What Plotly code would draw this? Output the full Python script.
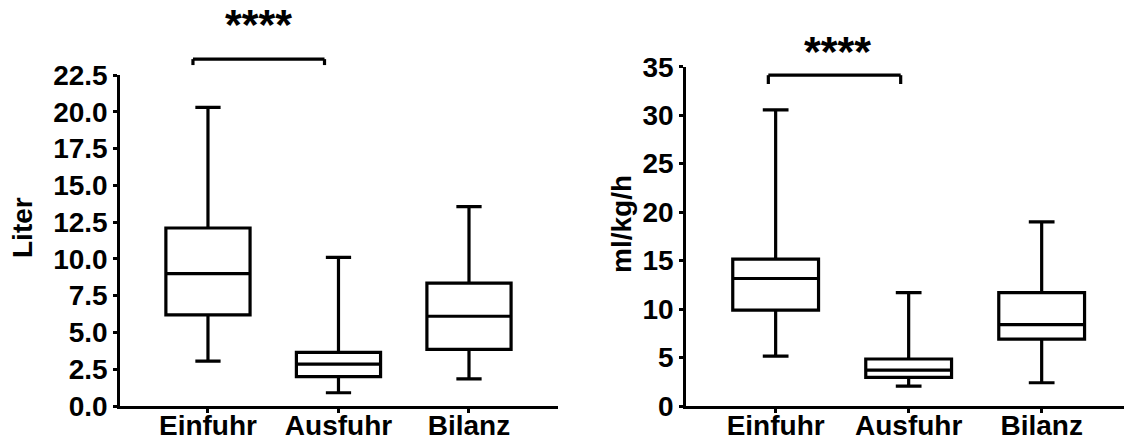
import plotly.graph_objects as go

W, H = 1125, 443

categories = ["Einfuhr", "Ausfuhr", "Bilanz"]

# Left panel: Liter
liter_lower = [3.05, 0.9, 1.85]
liter_q1 = [6.2, 2.0, 3.85]
liter_median = [9.0, 2.85, 6.1]
liter_q3 = [12.1, 3.65, 8.35]
liter_upper = [20.3, 10.1, 13.55]

# Right panel: ml/kg/h
rate_lower = [5.15, 2.05, 2.4]
rate_q1 = [9.9, 2.95, 6.9]
rate_median = [13.15, 3.7, 8.4]
rate_q3 = [15.15, 4.85, 11.7]
rate_upper = [30.55, 11.7, 19.0]

liter_ticks = [0, 2.5, 5, 7.5, 10, 12.5, 15, 17.5, 20, 22.5]
rate_ticks = [0, 5, 10, 15, 20, 25, 30, 35]

significance = "****"

FONT = "Liberation Sans, Arial, sans-serif"
LW = 3.2

fig = go.Figure()

box_style = dict(
    boxpoints=False,
    fillcolor="white",
    line=dict(color="black", width=LW),
    width=0.645,
    whiskerwidth=0.3,
    showlegend=False,
    hoverinfo="skip",
)

fig.add_trace(go.Box(
    x=categories, q1=liter_q1, median=liter_median, q3=liter_q3,
    lowerfence=liter_lower, upperfence=liter_upper,
    xaxis="x", yaxis="y", **box_style))

fig.add_trace(go.Box(
    x=categories, q1=rate_q1, median=rate_median, q3=rate_q3,
    lowerfence=rate_lower, upperfence=rate_upper,
    xaxis="x2", yaxis="y2", **box_style))

axis_common = dict(
    showline=True, linecolor="black", linewidth=2.5,
    ticks="outside", ticklen=4, tickwidth=2.5, tickcolor="black",
    showgrid=False, zeroline=False, automargin=False,
    tickfont=dict(family=FONT, size=28, color="black", weight="bold"),
)

fig.update_layout(
    template="none",
    width=W, height=H,
    margin=dict(l=0, r=0, t=0, b=0, autoexpand=False),
    paper_bgcolor="white", plot_bgcolor="white",
    xaxis=dict(domain=[120 / W, 558 / W], anchor="y", type="category",
               range=[-0.674, 2.682], ticklabelstandoff=-11, **axis_common),
    yaxis=dict(domain=[(H - 406) / H, (H - 75) / H], anchor="x",
               range=[0, 22.5], tickvals=liter_ticks, tickformat=".1f",
               **axis_common),
    xaxis2=dict(domain=[686 / W, 1124 / W], anchor="y2", type="category",
                range=[-0.674, 2.619], ticklabelstandoff=-11, **axis_common),
    yaxis2=dict(domain=[(H - 406) / H, (H - 66.7) / H], anchor="x2",
                range=[0, 35], tickvals=rate_ticks, **axis_common),
)

title_font = dict(family=FONT, size=28, color="black", weight="bold")
fig.add_annotation(text="Liter", xref="paper", yref="paper",
                   x=22 / W, y=(H - 228) / H, textangle=-90,
                   showarrow=False, font=title_font,
                   xanchor="center", yanchor="middle")
fig.add_annotation(text="ml/kg/h", xref="paper", yref="paper",
                   x=621 / W, y=(H - 224) / H, textangle=-90,
                   showarrow=False, font=title_font,
                   xanchor="center", yanchor="middle")

# significance brackets
def bracket(xref, yref, x0, x1, ytop, ybot, star_x, star_y):
    line = dict(color="black", width=LW)
    fig.add_shape(type="line", xref=xref, yref=yref, x0=x0, x1=x1,
                  y0=ytop, y1=ytop, line=line)
    fig.add_shape(type="line", xref=xref, yref=yref, x0=x0, x1=x0,
                  y0=ytop, y1=ybot, line=line)
    fig.add_shape(type="line", xref=xref, yref=yref, x0=x1, x1=x1,
                  y0=ytop, y1=ybot, line=line)
    fig.add_annotation(text=significance, xref=xref, yref=yref,
                       x=star_x, y=star_y, showarrow=False,
                       font=dict(family=FONT, size=43, color="black", weight="bold"),
                       xanchor="center", yanchor="middle")

bracket("x", "y domain", -0.115, 0.893, 1.048, 1.030, 0.387, 1.154)
bracket("x2", "y2 domain", -0.055, 0.94, 0.975, 0.949, 0.468, 1.046)

fig.write_html("out.html")
